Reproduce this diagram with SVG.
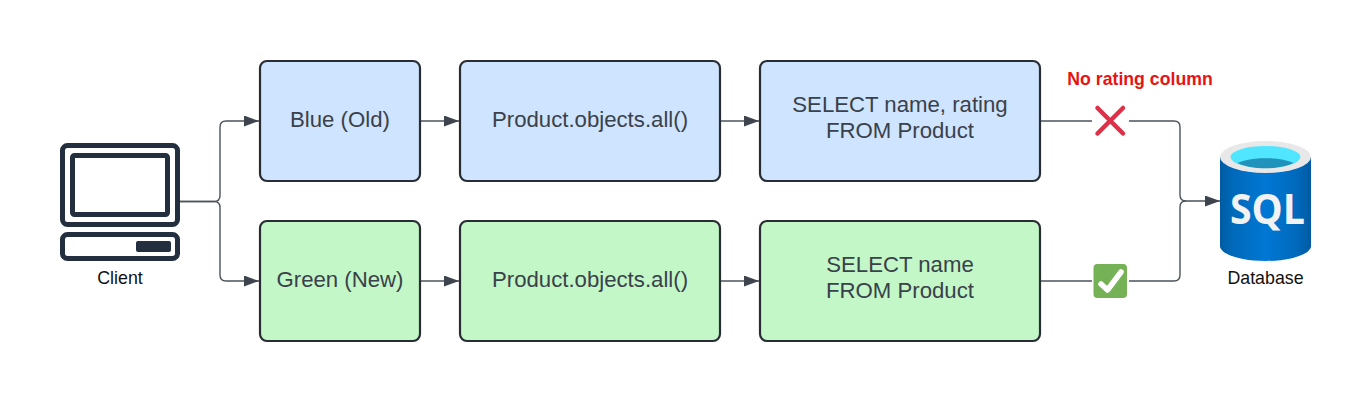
<svg xmlns="http://www.w3.org/2000/svg" width="1372" height="402" viewBox="0 0 1372 402">
<style>
.box{stroke:#282c33;stroke-width:2.2}
.blue{fill:#cfe4ff}
.green{fill:#c3f7c8}
.t{font-family:"Liberation Sans",Arial,sans-serif;font-size:22.2px;fill:#3a414a;text-anchor:middle}
.s{font-family:"Liberation Sans",Arial,sans-serif;font-size:17.8px;fill:#111;text-anchor:middle}
.c{fill:none;stroke:#4c535c;stroke-width:1.4}
.ic{fill:none;stroke:#232f3e;stroke-width:5}
</style>
<defs>
<marker id="arrow" markerUnits="userSpaceOnUse" markerWidth="16" markerHeight="12" refX="15" refY="5.500" orient="auto">
<path d="M0 0L15 5.500L0 11Z" fill="#3d444d"/>
</marker>
<linearGradient id="cyl" x1="0" x2="1" y1="0" y2="0">
<stop offset="0" stop-color="#005ba1"/><stop offset=".12" stop-color="#0068b8"/><stop offset=".5" stop-color="#0078d4"/><stop offset=".85" stop-color="#0069bb"/><stop offset="1" stop-color="#005ba1"/>
</linearGradient>
</defs>

<g id="connectors">
<path class="c" marker-end="url(#arrow)" d="M180 201.500H214Q220 201.500 220 195.500V127Q220 121 226 121H259"/>
<path class="c" marker-end="url(#arrow)" d="M180 201.500H214Q220 201.500 220 207.500V275Q220 281 226 281H259"/>
<path class="c" marker-end="url(#arrow)" d="M421 121H459"/>
<path class="c" marker-end="url(#arrow)" d="M421 281H459"/>
<path class="c" marker-end="url(#arrow)" d="M721 121H759"/>
<path class="c" marker-end="url(#arrow)" d="M721 281H759"/>
<path class="c" d="M1041 121H1092"/>
<path class="c" d="M1041 281H1092"/>
<path class="c" marker-end="url(#arrow)" d="M1129 121H1174Q1180 121 1180 127V195Q1180 201 1186 201H1220"/>
<path class="c" d="M1129 281H1174Q1180 281 1180 275V207Q1180 201 1186 201"/>
</g>

<g id="client">
<rect class="ic" x="62.500" y="145.500" width="115" height="79" rx="5"/>
<rect class="ic" x="72.500" y="155.500" width="95" height="59" rx="2"/>
<rect class="ic" x="62.500" y="234.500" width="115" height="24" rx="5"/>
<rect x="136" y="241" width="35" height="11" rx="2" fill="#232f3e"/>
<text class="s" x="120" y="284">Client</text>
</g>

<g id="blue-old">
<rect class="box blue" x="260" y="61" width="160" height="120" rx="7"/>
<text class="t" x="340" y="127">Blue (Old)</text>
</g>
<g id="blue-orm">
<rect class="box blue" x="460" y="61" width="260" height="120" rx="7"/>
<text class="t" x="590" y="127">Product.objects.all()</text>
</g>
<g id="blue-sql">
<rect class="box blue" x="760" y="61" width="280" height="120" rx="7"/>
<text class="t" x="900" y="112">SELECT name, rating</text>
<text class="t" x="900" y="138">FROM Product</text>
</g>
<g id="green-new">
<rect class="box green" x="260" y="221" width="160" height="120" rx="7"/>
<text class="t" x="340" y="287">Green (New)</text>
</g>
<g id="green-orm">
<rect class="box green" x="460" y="221" width="260" height="120" rx="7"/>
<text class="t" x="590" y="287">Product.objects.all()</text>
</g>
<g id="green-sql">
<rect class="box green" x="760" y="221" width="280" height="120" rx="7"/>
<text class="t" x="900" y="272">SELECT name</text>
<text class="t" x="900" y="298">FROM Product</text>
</g>

<g id="no-rating">
<text x="1140" y="84.500" font-family="'Liberation Sans',Arial,sans-serif" font-size="17.700px" font-weight="700" fill="#e81313" text-anchor="middle">No rating column</text>
<path d="M1097.500 108L1123 133.500M1123 108L1097.500 133.500" fill="none" stroke="#dd3049" stroke-width="4.500" stroke-linecap="round"/>
</g>
<g id="check">
<rect x="1093.500" y="264" width="33.500" height="34" rx="4" fill="#75b155"/>
<path d="M1101 284L1107.500 290L1121 272" fill="none" stroke="#fff" stroke-width="5.500" stroke-linecap="round" stroke-linejoin="round"/>
</g>

<g id="database">
<path d="M1220 157V246C1220 254 1240 261 1265.500 261S1311 254 1311 246V157Z" fill="url(#cyl)"/>
<ellipse cx="1265.500" cy="157" rx="45.500" ry="16" fill="#e8e8e8"/>
<ellipse cx="1265.500" cy="157" rx="35" ry="11" fill="#50e6ff"/>
<path d="M1237.500 163C1250 156.500 1281 156.500 1293.500 163C1280 170 1251 170 1237.500 163Z" fill="#1f93bb"/>
<text x="1267.500" y="223.500" font-family="'Open Sans','Liberation Sans',sans-serif" font-size="41px" font-weight="700" fill="#f2f2f2" text-anchor="middle" textLength="75" lengthAdjust="spacingAndGlyphs">SQL</text>
<text class="s" x="1265.500" y="284">Database</text>
</g>
</svg>
